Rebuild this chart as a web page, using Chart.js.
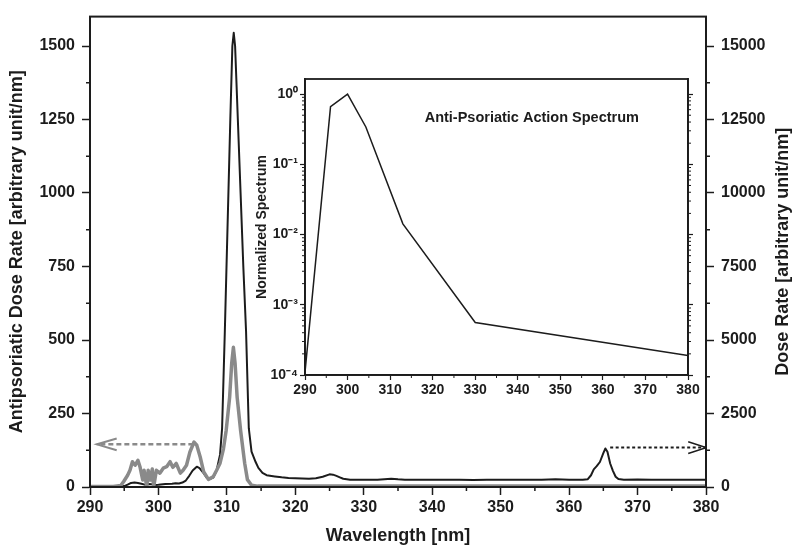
<!DOCTYPE html>
<html><head><meta charset="utf-8">
<script src="https://cdn.jsdelivr.net/npm/chart.js@4/dist/chart.umd.min.js"></script>
<style>
html,body{margin:0;padding:0;background:#fff;}
#wrap{position:relative;width:796px;height:547px;overflow:hidden;}
#main{position:absolute;left:0;top:0;}
#inset{position:absolute;left:240px;top:60px;}
</style></head><body>
<div id="wrap">
<canvas id="main" width="796" height="547"></canvas>
<canvas id="inset" width="470" height="340"></canvas>
</div>
<script>
// ---------- data ----------
// Lamp dose rate (right axis, arbitrary unit/nm)
const lampWavelength = [290,292,294,295,295.5,296,296.5,297,297.5,298,298.5,299,299.5,300,301,302,302.5,303,303.5,304,304.5,305,305.6,306,306.5,307,307.5,308,308.5,309,309.3,309.7,310,310.5,310.8,311,311.2,311.6,312,312.4,312.8,313.2,313.6,314.2,314.6,315.2,315.8,317,318,319,320,321,322,323,324,325,325.5,326,326.5,327,328,330,332,334,335,336,338,340,342,344,346,348,350,352,354,356,358,360,362,362.7,363.2,363.6,364,364.5,365,365.3,365.6,366,366.4,366.8,367.2,368,370,372,374,376,378,380];
const lampDoseRate   = [0,5,15,30,80,140,150,135,110,80,100,95,70,75,100,110,130,120,150,220,380,560,690,640,500,330,270,320,570,1100,2000,5300,8000,12500,15000,15450,15000,12500,10000,7500,5300,2000,1200,850,650,480,400,360,330,310,300,290,280,300,350,430,420,380,330,280,250,245,250,280,260,250,245,250,245,250,240,250,245,250,245,250,260,245,250,260,400,600,700,850,1150,1310,1200,800,550,350,270,250,255,245,250,245,250,245];
// Antipsoriatic dose rate (left axis, arbitrary unit/nm)
const antiWavelength = [290,293.4,294.5,294.9,295.5,295.84,296.2,296.6,297,297.3,297.7,297.9,298.3,298.5,298.8,299.1,299.3,299.7,300.2,300.7,301.2,301.7,302.1,302.6,303.2,303.6,304.1,304.6,305.2,305.6,306.1,306.6,307.3,308,308.5,309,309.5,309.9,310.4,310.7,310.95,311.2,311.5,312,312.6,313,313.6,314.5,380];
const antiDoseRate   = [2,2,5,18,40,57,86,74,91,69,24,57,0,57,24,61,0,57,47,64,69,86,67,80,47,57,74,119,153,142,102,52,26,35,57,81,130,193,305,420,475,420,305,193,81,25,6,3,3];
// Inset: anti-psoriatic action spectrum (normalized)
const actionWavelength = [290,296,300,304.3,313,330,380];
const actionSpectrum   = [1.1e-4,0.66,1.0,0.34,0.0142,5.6e-4,1.9e-4];
// Arrows (data units)
const greyArrowX = [305.1,291.0], greyArrowY = [145,145];
const greyHeadX  = [293.9,291.0,293.9], greyHeadY = [165,145,125];
const blackArrowX = [366.0,380.0], blackArrowY = [1340,1340];
const blackHeadX  = [377.4,380.0,377.4], blackHeadY = [1540,1340,1140];
// Ticks
const xTicks = [290,300,310,320,330,340,350,360,370,380];
const xMinorTicks = [295,305,315,325,335,345,355,365,375];
const leftTicks = [0,250,500,750,1000,1250,1500];
const leftMinorTicks = [125,375,625,875,1125,1375];
const rightTicks = [0,2500,5000,7500,10000,12500,15000];
const rightMinorTicks = [1250,3750,6250,8750,11250,13750];
const insetXTicks = [290,300,310,320,330,340,350,360,370,380];
const insetXMinorTicks = [295,305,315,325,335,345,355,365,375];
const insetYTicks = [1e-4,1e-3,1e-2,1e-1,1];
const insetYLabels = ['10\u207B\u2074','10\u207B\u00B3','10\u207B\u00B2','10\u207B\u00B9','10\u2070'];
const insetYMinorTicks = [];
for (let k=-4;k<=-1;k++){ for (let m=2;m<=9;m++){ insetYMinorTicks.push(m*Math.pow(10,k)); } }
const insetTitle = 'Anti-Psoriatic Action Spectrum';
const insetTitlePos = {x:343.3, y:0.46};
const leftTitle = 'Antipsoriatic Dose Rate [arbitrary unit/nm]';
const rightTitle = 'Dose Rate [arbitrary unit/nm]';
const xTitle = 'Wavelength [nm]';

// ---------- style ----------
const FONT = "'Liberation Sans', Arial, Helvetica, sans-serif";
const INK = '#1c1c1c';
const GREY = '#8a8a8a';
Chart.defaults.font.family = FONT;
Chart.defaults.color = INK;

const pts = (xs, ys) => xs.map((x,i)=>({x:x, y:ys[i]}));
const fixW = w => s => { s.width = w; };
const fixH = h => s => { s.height = h; };
const setTicks = arr => s => { s.ticks = arr.map(v=>({value:v})); };

const mainDecor = {
  id:'mainDecor',
  afterDraw(chart){
    const {ctx, chartArea:a, scales:{x,y,y2}} = chart;
    ctx.save();
    ctx.strokeStyle = INK; ctx.lineWidth = 1.5;
    ctx.beginPath();
    xMinorTicks.forEach(v=>{const p=x.getPixelForValue(v); ctx.moveTo(p,a.bottom); ctx.lineTo(p,a.bottom+4);});
    leftMinorTicks.forEach(v=>{const p=y.getPixelForValue(v); ctx.moveTo(a.left-4,p); ctx.lineTo(a.left,p);});
    rightMinorTicks.forEach(v=>{const p=y2.getPixelForValue(v); ctx.moveTo(a.right,p); ctx.lineTo(a.right+4,p);});
    ctx.stroke();
    ctx.lineWidth = 2;
    ctx.strokeRect(a.left,a.top,a.right-a.left,a.bottom-a.top);
    ctx.fillStyle = INK; ctx.font = 'bold 18px ' + FONT;
    ctx.textAlign = 'center'; ctx.textBaseline = 'middle';
    ctx.translate(783, (a.top+a.bottom)/2);
    ctx.rotate(-Math.PI/2);
    ctx.fillText(rightTitle, 0, 0);
    ctx.restore();
  }
};

new Chart(document.getElementById('main'), {
  type:'line',
  data:{datasets:[
    {data:pts(antiWavelength, antiDoseRate), yAxisID:'y', borderColor:GREY, borderWidth:3.5, pointRadius:0, tension:0, borderJoinStyle:'round'},
    {data:pts(greyArrowX, greyArrowY), yAxisID:'y', borderColor:GREY, borderWidth:2.5, borderDash:[5,3], pointRadius:0},
    {data:pts(greyHeadX, greyHeadY), yAxisID:'y', borderColor:GREY, borderWidth:2, pointRadius:0},
    {data:pts(lampWavelength, lampDoseRate), yAxisID:'y2', borderColor:INK, borderWidth:2, pointRadius:0, tension:0, borderJoinStyle:'round'},
    {data:pts(blackArrowX, blackArrowY), yAxisID:'y2', borderColor:INK, borderWidth:2, borderDash:[3,2.5], pointRadius:0},
    {data:pts(blackHeadX, blackHeadY), yAxisID:'y2', borderColor:INK, borderWidth:1.5, pointRadius:0}
  ]},
  options:{
    responsive:false, animation:false, devicePixelRatio:1,
    layout:{padding:{top:14,left:0,right:0,bottom:0}},
    plugins:{legend:{display:false}, tooltip:{enabled:false}},
    scales:{
      x:{type:'linear', min:290, max:380, afterBuildTicks:setTicks(xTicks), afterFit:fixH(60),
        ticks:{font:{size:16,weight:'bold'}, color:INK, padding:3, maxRotation:0, autoSkip:false, callback:v=>String(v)},
        grid:{drawOnChartArea:false, drawTicks:true, tickLength:8, tickColor:INK, tickWidth:1.5},
        border:{display:true, color:INK, width:2},
        title:{display:true, text:xTitle, font:{size:18,weight:'bold'}, color:INK, padding:{top:0,bottom:0}}},
      y:{type:'linear', position:'left', min:0, max:1600, afterBuildTicks:setTicks(leftTicks), afterFit:fixW(90),
        ticks:{font:{size:16,weight:'bold'}, color:INK, padding:7, autoSkip:false, callback:v=>String(v)},
        grid:{drawOnChartArea:false, drawTicks:true, tickLength:8, tickColor:INK, tickWidth:1.5},
        border:{display:true, color:INK, width:2},
        title:{display:true, text:leftTitle, font:{size:18,weight:'bold'}, color:INK, padding:{top:6,bottom:0}}},
      y2:{type:'linear', position:'right', min:0, max:16000, afterBuildTicks:setTicks(rightTicks), afterFit:fixW(90),
        ticks:{font:{size:16,weight:'bold'}, color:INK, padding:7, autoSkip:false, callback:v=>String(v)},
        grid:{drawOnChartArea:false, drawTicks:true, tickLength:8, tickColor:INK, tickWidth:1.5},
        border:{display:true, color:INK, width:2}}
    }
  },
  plugins:[mainDecor]
});

const insetDecor = {
  id:'insetDecor',
  afterDraw(chart){
    const {ctx, chartArea:a, scales:{x,y}} = chart;
    ctx.save();
    ctx.strokeStyle = INK; ctx.lineWidth = 1;
    ctx.beginPath();
    insetXMinorTicks.forEach(v=>{const p=x.getPixelForValue(v); ctx.moveTo(p,a.bottom); ctx.lineTo(p,a.bottom+3);});
    insetYMinorTicks.forEach(v=>{const p=y.getPixelForValue(v); ctx.moveTo(a.left-3,p); ctx.lineTo(a.left,p); ctx.moveTo(a.right,p); ctx.lineTo(a.right+3,p);});
    ctx.stroke();
    ctx.lineWidth = 1.8;
    ctx.strokeRect(a.left,a.top,a.right-a.left,a.bottom-a.top);
    ctx.fillStyle = INK; ctx.font = 'bold 14.5px ' + FONT;
    ctx.textAlign = 'center'; ctx.textBaseline = 'middle';
    ctx.fillText(insetTitle, x.getPixelForValue(insetTitlePos.x), y.getPixelForValue(insetTitlePos.y));
    ctx.restore();
  }
};

new Chart(document.getElementById('inset'), {
  type:'line',
  data:{datasets:[
    {data:pts(actionWavelength, actionSpectrum), borderColor:INK, borderWidth:1.5, pointRadius:0, tension:0}
  ]},
  options:{
    responsive:false, animation:false, devicePixelRatio:1,
    layout:{padding:{top:19,left:0,right:0,bottom:0}},
    plugins:{legend:{display:false}, tooltip:{enabled:false}},
    scales:{
      x:{type:'linear', min:290, max:380, afterBuildTicks:setTicks(insetXTicks), afterFit:fixH(25),
        ticks:{font:{size:14,weight:'bold'}, color:INK, padding:2, maxRotation:0, autoSkip:false, callback:v=>String(v)},
        grid:{drawOnChartArea:false, drawTicks:true, tickLength:5, tickColor:INK, tickWidth:1.2},
        border:{display:true, color:INK, width:1.8}},
      y:{type:'logarithmic', position:'left', min:1e-4, max:1.64, afterBuildTicks:setTicks(insetYTicks), afterFit:fixW(65),
        ticks:{font:{size:14,weight:'bold'}, color:INK, padding:2, autoSkip:false, callback:(v,i)=>insetYLabels[i]},
        grid:{drawOnChartArea:false, drawTicks:true, tickLength:5, tickColor:INK, tickWidth:1.2},
        border:{display:true, color:INK, width:1.8},
        title:{display:true, text:'Normalized Spectrum', font:{size:14,weight:'bold'}, color:INK, padding:{top:13.6,bottom:0}}},
      y2:{type:'logarithmic', position:'right', min:1e-4, max:1.64, afterBuildTicks:setTicks(insetYTicks), afterFit:fixW(22),
        ticks:{display:true, padding:0, callback:()=>''},
        grid:{drawOnChartArea:false, drawTicks:true, tickLength:5, tickColor:INK, tickWidth:1.2},
        border:{display:true, color:INK, width:1.8}}
    }
  },
  plugins:[insetDecor]
});
</script>
</body></html>
